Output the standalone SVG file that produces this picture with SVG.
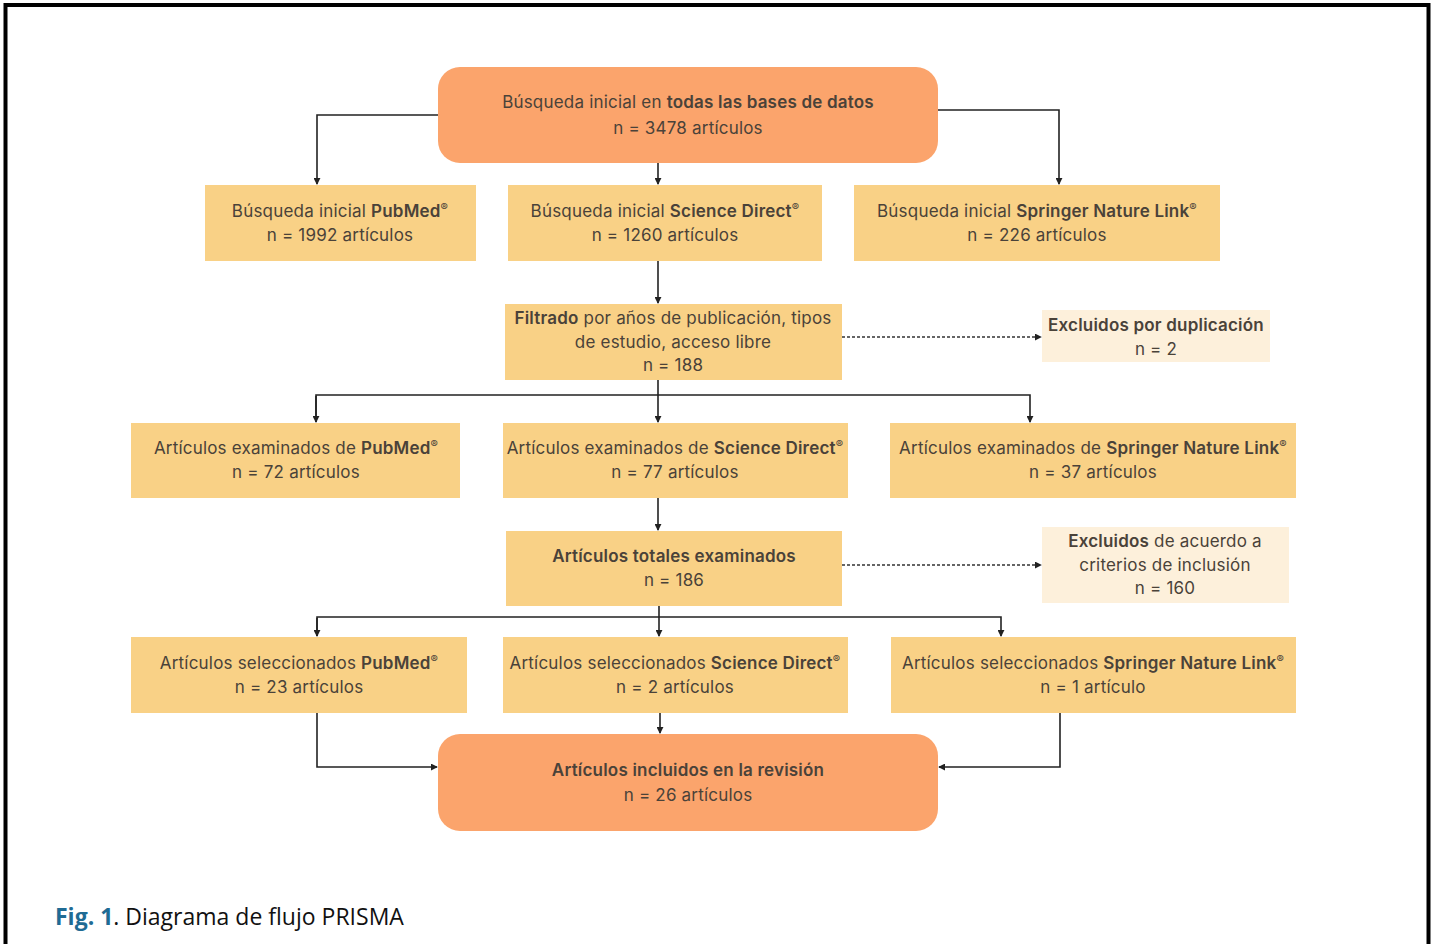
<svg xmlns="http://www.w3.org/2000/svg" width="1437" height="944" viewBox="0 0 1437 944">
<defs>
<style>
.t{font-family:Inter,"Noto Sans",sans-serif;font-size:17px;letter-spacing:0.2px;fill:#4a4239;text-anchor:middle}
.b{font-weight:600}
.big{fill:#fba46c}
.mid{fill:#f9d186}
.pale{fill:#fdf0db}
.c{fill:none;stroke:#222;stroke-width:1.6}
.d{fill:none;stroke:#333;stroke-width:1.3;stroke-dasharray:3 2}
.r{font-size:11px}
</style>
<marker id="a" viewBox="0 0 8 8" refX="7" refY="4" markerWidth="7" markerHeight="7" markerUnits="userSpaceOnUse" orient="auto"><path d="M0,0 L8,4 L0,8 z" fill="#222"/></marker>
</defs>
<rect x="0" y="0" width="1437" height="944" fill="#fff"/>
<rect x="5.5" y="5" width="1423" height="950" fill="none" stroke="#000" stroke-width="4"/>

<g id="connectors">
<path class="c" d="M438,115 H317 V184" marker-end="url(#a)"/>
<path class="c" d="M938,110 H1059 V184" marker-end="url(#a)"/>
<path class="c" d="M658,163 V184" marker-end="url(#a)"/>
<path class="c" d="M658,261 V303" marker-end="url(#a)"/>
<path class="d" d="M842,337 H1041" marker-end="url(#a)"/>
<path class="c" d="M658,380 V422"  marker-end="url(#a)"/>
<path class="c" d="M316,422 V395 H1030 V422" marker-end="url(#a)"/>
<path class="c" d="M316,396 V422" marker-end="url(#a)"/>
<path class="c" d="M658,498 V530" marker-end="url(#a)"/>
<path class="d" d="M842,565 H1041" marker-end="url(#a)"/>
<path class="c" d="M659,606 V636" marker-end="url(#a)"/>
<path class="c" d="M317,636 V617 H1001 V636" marker-end="url(#a)"/>
<path class="c" d="M317,618 V636" marker-end="url(#a)"/>
<path class="c" d="M317,713 V767 H437" marker-end="url(#a)"/>
<path class="c" d="M1060,713 V767 H939" marker-end="url(#a)"/>
<path class="c" d="M660,713 V733" marker-end="url(#a)"/>
</g>

<g id="n-inicial">
<rect class="big" x="438" y="67" width="500" height="96" rx="22"/>
<text class="t" x="688" y="108">Búsqueda inicial en <tspan class="b">todas las bases de datos</tspan></text>
<text class="t" x="688" y="134">n = 3478 artículos</text>
</g>
<g id="n-pubmed1">
<rect class="mid" x="205" y="185" width="271" height="76"/>
<text class="t" x="340" y="217">Búsqueda inicial <tspan class="b">PubMed</tspan><tspan class="r" dy="-6">®</tspan></text>
<text class="t" x="340" y="241">n = 1992 artículos</text>
</g>
<g id="n-sd1">
<rect class="mid" x="508" y="185" width="314" height="76"/>
<text class="t" x="665" y="217">Búsqueda inicial <tspan class="b">Science Direct</tspan><tspan class="r" dy="-6">®</tspan></text>
<text class="t" x="665" y="241">n = 1260 artículos</text>
</g>
<g id="n-sn1">
<rect class="mid" x="854" y="185" width="366" height="76"/>
<text class="t" x="1037" y="217">Búsqueda inicial <tspan class="b">Springer Nature Link</tspan><tspan class="r" dy="-6">®</tspan></text>
<text class="t" x="1037" y="241">n = 226 artículos</text>
</g>
<g id="n-filtrado">
<rect class="mid" x="505" y="304" width="337" height="76"/>
<text class="t" x="673" y="324"><tspan class="b">Filtrado</tspan> por años de publicación, tipos</text>
<text class="t" x="673" y="348">de estudio, acceso libre</text>
<text class="t" x="673" y="371">n = 188</text>
</g>
<g id="n-dup">
<rect class="pale" x="1042" y="310" width="228" height="52"/>
<text class="t b" x="1156" y="331">Excluidos por duplicación</text>
<text class="t" x="1156" y="355">n = 2</text>
</g>
<g id="n-pubmed2">
<rect class="mid" x="131" y="423" width="329" height="75"/>
<text class="t" x="296" y="454">Artículos examinados de <tspan class="b">PubMed</tspan><tspan class="r" dy="-6">®</tspan></text>
<text class="t" x="296" y="478">n = 72 artículos</text>
</g>
<g id="n-sd2">
<rect class="mid" x="503" y="423" width="345" height="75"/>
<text class="t" x="675" y="454">Artículos examinados de <tspan class="b">Science Direct</tspan><tspan class="r" dy="-6">®</tspan></text>
<text class="t" x="675" y="478">n = 77 artículos</text>
</g>
<g id="n-sn2">
<rect class="mid" x="890" y="423" width="406" height="75"/>
<text class="t" x="1093" y="454">Artículos examinados de <tspan class="b">Springer Nature Link</tspan><tspan class="r" dy="-6">®</tspan></text>
<text class="t" x="1093" y="478">n = 37 artículos</text>
</g>
<g id="n-total">
<rect class="mid" x="506" y="531" width="336" height="75"/>
<text class="t b" x="674" y="562">Artículos totales examinados</text>
<text class="t" x="674" y="586">n = 186</text>
</g>
<g id="n-criterios">
<rect class="pale" x="1042" y="527" width="247" height="76"/>
<text class="t" x="1165" y="547"><tspan class="b">Excluidos</tspan> de acuerdo a</text>
<text class="t" x="1165" y="571">criterios de inclusión</text>
<text class="t" x="1165" y="594">n = 160</text>
</g>
<g id="n-pubmed3">
<rect class="mid" x="131" y="637" width="336" height="76"/>
<text class="t" x="299" y="669">Artículos seleccionados <tspan class="b">PubMed</tspan><tspan class="r" dy="-6">®</tspan></text>
<text class="t" x="299" y="693">n = 23 artículos</text>
</g>
<g id="n-sd3">
<rect class="mid" x="503" y="637" width="345" height="76"/>
<text class="t" x="675" y="669">Artículos seleccionados <tspan class="b">Science Direct</tspan><tspan class="r" dy="-6">®</tspan></text>
<text class="t" x="675" y="693">n = 2 artículos</text>
</g>
<g id="n-sn3">
<rect class="mid" x="891" y="637" width="405" height="76"/>
<text class="t" x="1093" y="669">Artículos seleccionados <tspan class="b">Springer Nature Link</tspan><tspan class="r" dy="-6">®</tspan></text>
<text class="t" x="1093" y="693">n = 1 artículo</text>
</g>
<g id="n-incluidos">
<rect class="big" x="438" y="734" width="500" height="97" rx="22"/>
<text class="t b" x="688" y="776">Artículos incluidos en la revisión</text>
<text class="t" x="688" y="801">n = 26 artículos</text>
</g>

<text x="55" y="925" font-family="'Open Sans','Liberation Sans',sans-serif" font-size="23" fill="#111"><tspan font-weight="700" fill="#1f6b94">Fig. 1</tspan>. Diagrama de flujo PRISMA</text>
</svg>
